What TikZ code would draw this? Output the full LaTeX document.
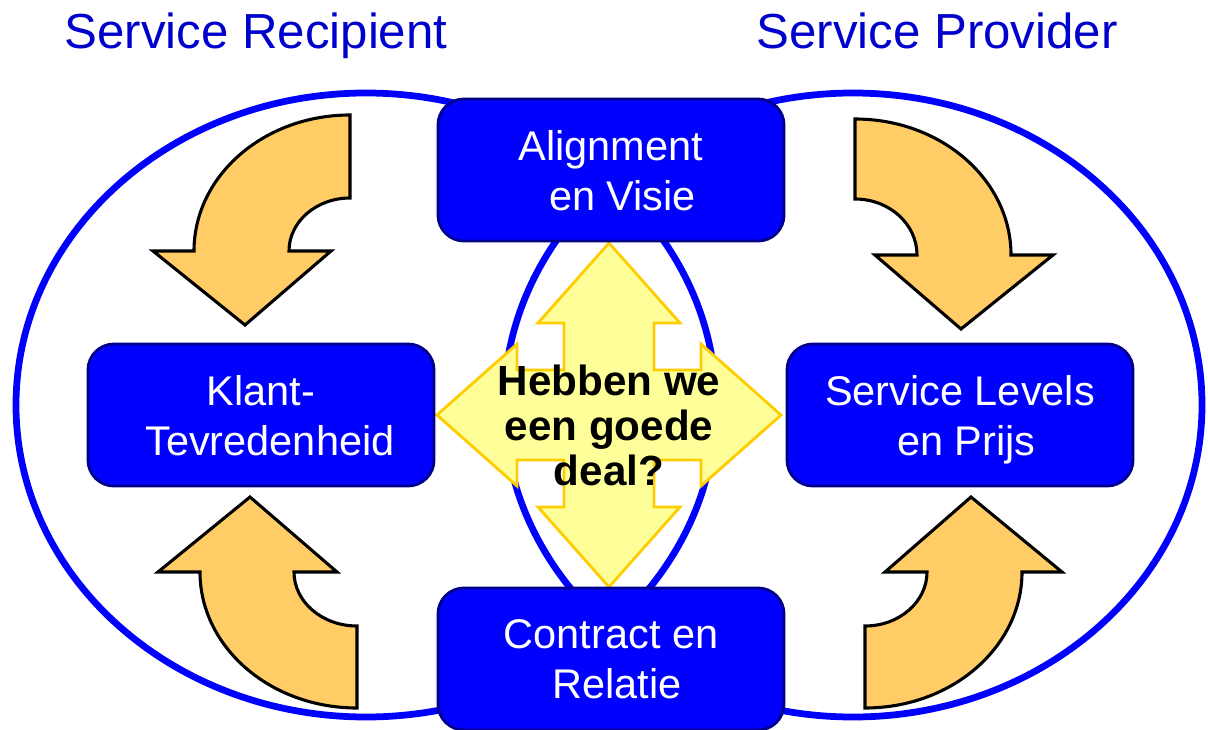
\documentclass[tikz,border=0pt]{standalone}
\usepackage{fontspec}
\setmainfont{Liberation Sans}
\definecolor{ringblue}{RGB}{0,0,255}
\definecolor{titleblue}{RGB}{0,0,204}
\definecolor{boxedge}{RGB}{0,0,140}
\definecolor{bendorange}{RGB}{255,204,102}
\definecolor{dealfill}{RGB}{255,255,153}
\definecolor{dealedge}{RGB}{255,204,0}

\begin{document}
\begin{tikzpicture}[
    x=0.025cm, y=0.025cm, yscale=-1,
    ring/.style={draw=ringblue, line width=4.8pt},
    topic/.style={rectangle, rounded corners=0.65cm, draw=boxedge, line width=2pt, fill=ringblue,
        text=white, minimum width=8.65cm, minimum height=3.55cm, align=center,
        font=\fontsize{29.5}{35.6}\selectfont, text depth=0pt},
    side/.style={text=titleblue, font=\fontsize{35}{42}\selectfont, anchor=base},
    bendarrow/.style={draw=black, line width=2.2pt, fill=bendorange},
    dealarrow/.style={draw=dealedge, line width=2pt, fill=dealfill}
]
\useasboundingbox (0,0) rectangle (1208,729);

\draw[ring] (366,405) ellipse [x radius=350, y radius=312];
\draw[ring] (853,405) ellipse [x radius=349, y radius=312];

\filldraw[dealarrow, shift={(609,415)}] (0,-172) -- (71,-92) -- (45,-92) -- (45,-45) -- (92,-45) -- (92,-71)
    -- (172,0) -- (92,71) -- (92,45) -- (45,45) -- (45,92) -- (71,92)
    -- (0,172) -- (-71,92) -- (-45,92) -- (-45,45) -- (-92,45) -- (-92,71)
    -- (-172,0) -- (-92,-71) -- (-92,-45) -- (-45,-45) -- (-45,-92) -- (-71,-92) -- cycle;

\node[topic] (vision) at (611,170) {Alignment\\\hspace*{0.55em}en Visie};
\node[topic] (tevreden) at (261,415) {Klant-\\\hspace*{0.43em}Tevredenheid};
\node[topic] (levels) at (960,415) {Service Levels\\\hspace*{0.31em}en Prijs};
\node[topic] (contract) at (611,659) {Contract en\\\hspace*{0.3em}Relatie};

\filldraw[bendarrow] (350,115) arc[start angle=270, end angle=180, x radius=156, y radius=136]
    -- (153,251) -- (245,325) -- (331,251) -- (289,251)
    arc[start angle=180, end angle=270, x radius=61, y radius=53] -- cycle;
\filldraw[bendarrow] (855,119) arc[start angle=270, end angle=360, x radius=156, y radius=136]
    -- (1053,255) -- (961,329) -- (875,255) -- (917,255)
    arc[start angle=0, end angle=-90, x radius=62, y radius=56] -- cycle;
\filldraw[bendarrow] (357,708) arc[start angle=90, end angle=180, x radius=157, y radius=136]
    -- (158,572) -- (250,497) -- (337,572) -- (294,572)
    arc[start angle=180, end angle=90, x radius=63, y radius=54] -- cycle;
\filldraw[bendarrow] (865,708) arc[start angle=90, end angle=0, x radius=157, y radius=136]
    -- (1062,572) -- (971,497) -- (885,572) -- (927,572)
    arc[start angle=0, end angle=90, x radius=62, y radius=54] -- cycle;

\node[side] (recipient) at (256,49) {Service Recipient};
\node[side] (provider) at (937,49) {Service Provider};

\node[font=\bfseries\fontsize{30}{32}\selectfont, align=center, text depth=0pt] (question) at (609,425)
    {Hebben we\\een goede\\deal?};

\end{tikzpicture}
\end{document}
